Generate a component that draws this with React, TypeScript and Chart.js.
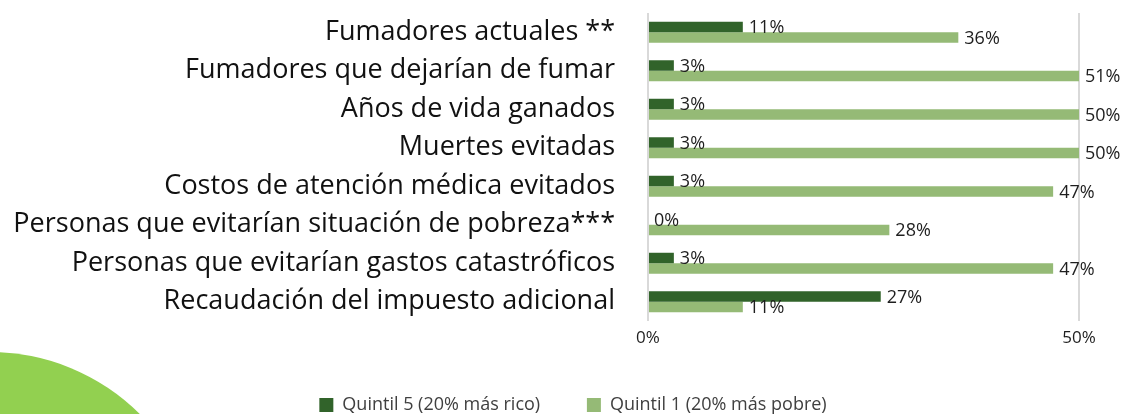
import React, { useEffect, useRef } from "react";
import { Chart, registerables } from "chart.js";

Chart.register(...registerables);

const categories = [
  "Fumadores actuales **",
  "Fumadores que dejarían de fumar",
  "Años de vida ganados",
  "Muertes evitadas",
  "Costos de atención médica evitados",
  "Personas que evitarían situación de pobreza***",
  "Personas que evitarían gastos catastróficos",
  "Recaudación del impuesto adicional",
];
const quintil5 = [11, 3, 3, 3, 3, 0, 3, 27];
const quintil1 = [36, 51, 50, 50, 47, 28, 47, 11];
const seriesNames = ["Quintil 5 (20% más rico)", "Quintil 1 (20% más pobre)"];
const xTickValues = [0, 50];

const DARK = "#31632A";
const LIGHT = "#95BA76";

const CANVAS_H = 424;
const PAD_LEFT = 67;
const PLOT_LEFT = 648;

const valueLabels = {
  id: "valueLabels",
  afterLayout(chart: any) {
    // let the long category labels use the full left margin (no clipping)
    if (chart.scales.y) chart.scales.y.left = 0;
  },
  afterDatasetsDraw(chart: any) {
    const ctx = chart.ctx;
    const area = chart.chartArea;
    ctx.save();
    ctx.font = "18px 'Open Sans'";
    ctx.fillStyle = "#1e1e1e";
    ctx.textAlign = "left";
    ctx.textBaseline = "middle";
    chart.data.datasets.forEach((ds: any, di: number) => {
      const meta = chart.getDatasetMeta(di);
      meta.data.forEach((el: any, i: number) => {
        const end = Math.min(el.x, area.right);
        ctx.fillText(ds.data[i] + "%", end + 6, el.y + 1);
      });
    });
    ctx.restore();
  },
};

export default function App() {
  const ref = useRef<HTMLCanvasElement>(null);
  useEffect(() => {
    if (!ref.current) return;
    const chart = new Chart(ref.current, {
      type: "bar",
      data: {
        labels: categories,
        datasets: [
          { label: seriesNames[0], data: quintil5, backgroundColor: DARK, borderWidth: 0 },
          { label: seriesNames[1], data: quintil1, backgroundColor: LIGHT, borderWidth: 0 },
        ],
      },
      options: {
        indexAxis: "y",
        responsive: false,
        animation: false,
        datasets: { bar: { categoryPercentage: 0.545, barPercentage: 1 } },
        layout: { padding: { top: 13, right: 49, left: PAD_LEFT, bottom: 0 } },
        scales: {
          x: {
            min: 0,
            max: 50,
            afterBuildTicks: (s: any) => {
              s.ticks = xTickValues.map((v) => ({ value: v }));
            },
            afterFit: (s: any) => {
              const lg = s.chart.legend;
              const lh = lg ? lg.height : 0;
              s.height = Math.max(10, s.chart.height - lh - 321);
            },
            grid: { color: "#d9d9d9", lineWidth: 2, drawTicks: false },
            border: { display: false },
            ticks: {
              padding: 7,
              color: "#1e1e1e",
              font: { family: "'Open Sans'", size: 17 },
              callback: (v: any) => v + "%",
              maxRotation: 0,
            },
          },
          y: {
            grid: { display: false, drawTicks: false },
            border: { display: false },
            afterFit: (s: any) => {
              s.width = PLOT_LEFT - PAD_LEFT;
              s.paddingTop = 0;
              s.paddingBottom = 0;
            },
            ticks: {
              padding: 33,
              color: "#111",
              font: { family: "'Open Sans'", size: 27 },
              autoSkip: false,
            },
          },
        },
        plugins: {
          tooltip: { enabled: false },
          legend: {
            position: "bottom",
            labels: {
              boxWidth: 14,
              boxHeight: 14,
              padding: 0,
              color: "#404040",
              font: { family: "'Open Sans'", size: 18 },
              generateLabels: (c: any) => {
                const items = Chart.defaults.plugins.legend.labels.generateLabels(c);
                return items.map((it: any, i: number) => ({
                  ...it,
                  text: i === 0 ? it.text + "\u00a0\u00a0\u00a0\u00a0\u00a0\u00a0\u00a0\u00a0\u00a0\u00a0" : it.text,
                }));
              },
            },
          },
        },
      },
      plugins: [valueLabels],
    });
    return () => chart.destroy();
  }, []);

  return (
    <div
      style={{
        position: "fixed",
        left: 0,
        top: 0,
        width: 1128,
        height: 414,
        overflow: "hidden",
        background: "#ffffff",
      }}
    >
      <div
        style={{
          position: "absolute",
          left: -222,
          top: 352,
          width: 424,
          height: 424,
          borderRadius: "50%",
          background: "#92D050",
        }}
      />
      <canvas
        ref={ref}
        width={1128}
        height={CANVAS_H}
        style={{ position: "absolute", left: 0, top: 0 }}
      />
    </div>
  );
}
